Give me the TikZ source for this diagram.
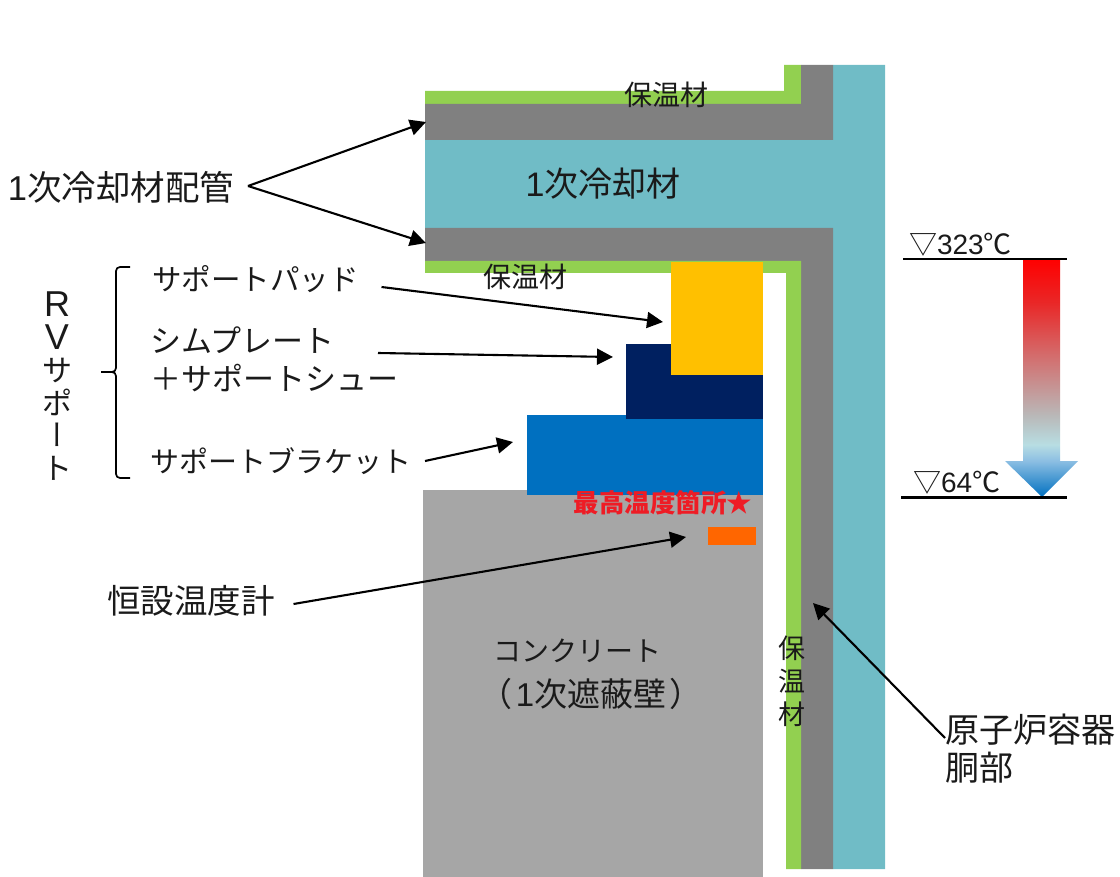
\documentclass[tikz,border=0pt]{standalone}
\usepackage{fontspec}
\setmainfont{Noto Sans CJK JP}
\newfontfamily\lat{Liberation Sans}
\newfontfamily\jpv[RawFeature=+vert]{Noto Sans CJK JP}
\definecolor{insul}{HTML}{92D050}
\definecolor{steel}{HTML}{808080}
\definecolor{coolant}{HTML}{70BCC6}
\definecolor{pad}{HTML}{FFC000}
\definecolor{shim}{HTML}{002060}
\definecolor{bracketc}{HTML}{0070C0}
\definecolor{conc}{HTML}{A6A6A6}
\definecolor{gauge}{HTML}{FF6600}
\definecolor{txt}{HTML}{1A1A1A}
\definecolor{hotc}{HTML}{EE1C25}
\pgfdeclareverticalshading{tempgrad}{100bp}{
  color(0bp)=(bracketc);
  color(25bp)=(bracketc);
  color(32.6bp)=(bracketc!45!white);
  color(36bp)=(coolant!50!white);
  color(42bp)=(gray!55!white);
  color(55bp)=(red!55!gray!75!white);
  color(66bp)=(red!90!black!85!white);
  color(75bp)=(red);
  color(100bp)=(red)}
\usetikzlibrary{arrows.meta}
\tikzset{
  part/.style={fill=#1,draw=none},
  lbl/.style={inner sep=0pt,outer sep=0pt,text=txt,font=\fontsize{#1}{#1}\selectfont},
  lbl/.default=30,
  pointer/.style={draw=black,line width=2.1pt,-{Triangle[length=16pt,width=16pt]}},
  level/.style={draw=black,line width=2.2pt},
  brace/.style={draw=black,line width=1.7pt}
}
\begin{document}
\begin{tikzpicture}[x=1pt,y=-1pt]
\useasboundingbox (0,0) rectangle (1120,877);
% vessel and piping
\path[part=coolant] (425,140) -- (833,140) -- (833,65) -- (885,65) -- (885,869) -- (833,869) -- (833,228) -- (425,228) -- cycle;
\path[part=insul] (425,91) -- (784,91) -- (784,65) -- (801,65) -- (801,104) -- (425,104) -- cycle;
\path[part=steel] (425,104) -- (801,104) -- (801,65) -- (833,65) -- (833,140) -- (425,140) -- cycle;
\path[part=steel] (425,228) -- (833,228) -- (833,869) -- (801,869) -- (801,261) -- (425,261) -- cycle;
\path[part=insul] (425,261) -- (801,261) -- (801,869) -- (786,869) -- (786,273) -- (425,273) -- cycle;
% concrete and support
\path[part=conc] (423,490) rectangle (763,877);
\path[part=bracketc] (527,415) rectangle (763,495);
\path[part=shim] (626,344) rectangle (763,419);
\path[part=pad] (671,262) rectangle (763,375);
\path[part=gauge] (708,527) rectangle (756,545);
% temperature gradient arrow
\path[shading=tempgrad] (1023,259) -- (1060,259) -- (1060,461) -- (1078,461) -- (1042,497) -- (1005,461) -- (1023,461) -- cycle;
\coordinate (t1a) at (903,259); \coordinate (t1b) at (1067,259);
\coordinate (t2a) at (901,497.5); \coordinate (t2b) at (1067,497.5);
\draw[level] (t1a) -- (t1b);
\draw[level] (t2a) -- (t2b);
% texts
\node[lbl=28,anchor=center] (insA) at (666,95) {保温材};
\node[lbl=34,anchor=center] (cool) at (603,184) {{\lat 1}次冷却材};
\node[lbl=28,anchor=center] (insB) at (525,277) {保温材};
\node[lbl=27,anchor=center,align=center,font=\fontsize{27}{33}\selectfont] (insC) at (792,681) {保\\温\\材};
\node[lbl=34.5,anchor=west] (pipe) at (8,187) {{\lat 1}次冷却材配管};
\node[lbl=29.5,anchor=west] (spad) at (152,279) {サポートパッド};
\node[lbl=31,anchor=west,align=left,font=\fontsize{31}{38}\selectfont] (sshim) at (150,359) {シムプレート\\＋サポートシュー};
\node[lbl=29,anchor=west] (sbr) at (150,461) {サポートブラケット};
\node[lbl=33.5,anchor=west] (therm) at (107,601) {恒設温度計};
\node[lbl=28,anchor=center] (concA) at (577,651) {コンクリート};
\node[lbl=33,anchor=center] (concB) at (591,694) {（\hspace{3pt}{\lat 1}次遮蔽壁\hspace{3pt}）};
\node[lbl=34,anchor=west,align=left,font=\fontsize{34}{38}\selectfont] (rv) at (945,749) {原子炉容器\\胴部};
\node[lbl,anchor=center,text=hotc,font=\fontsize{25.5}{25.5}\selectfont\bfseries] (hot) at (663,503) {最高温度箇所★};
\node[lbl=28,anchor=west] (t323) at (909,245) {▽{\lat 323}℃};
\node[lbl=28,anchor=west] (t64) at (913,483) {▽{\lat 64}℃};
\node[lbl,anchor=center,align=center,font=\fontsize{30}{32.5}\selectfont] (rvs) at (57,386) {{\fontsize{36}{32.5}\selectfont\lat R}\\{\fontsize{36}{32.5}\selectfont\lat V}\\サ\\ポ\\{\jpv ー}\\ト};
% support brace
\coordinate (brT) at (130,267); \coordinate (brB) at (130,478); \coordinate (brM) at (101,372);
\draw[brace] (brT) -- (120,267) to[out=180,in=90] (116,271) -- (116,368) to[out=-90,in=0] (112,372) -- (brM);
\draw[brace] (112,372) to[out=0,in=90] (116,376) -- (116,474) to[out=-90,in=180] (120,478) -- (brB);
% pointers
\coordinate (pa) at (248,186);
\coordinate (pb) at (426,122);
\coordinate (pc) at (426,243);
\draw[pointer] (pa) -- (pb);
\draw[pointer] (pa) -- (pc);
\coordinate (t1) at (663,322);
\coordinate (t2) at (613,357);
\coordinate (t3) at (513,442);
\coordinate (t4) at (686,537);
\coordinate (t5) at (813,603);
\draw[pointer] ([xshift=23pt,yshift=-8pt]spad.east) -- (t1);
\draw[pointer] ([xshift=-20pt,yshift=6pt]sshim.east) -- (t2);
\draw[pointer] ([xshift=14pt]sbr.east) -- (t3);
\draw[pointer] ([xshift=19pt,yshift=-3pt]therm.east) -- (t4);
\draw[pointer] ([yshift=11pt]rv.west) -- (t5);
\end{tikzpicture}
\end{document}
